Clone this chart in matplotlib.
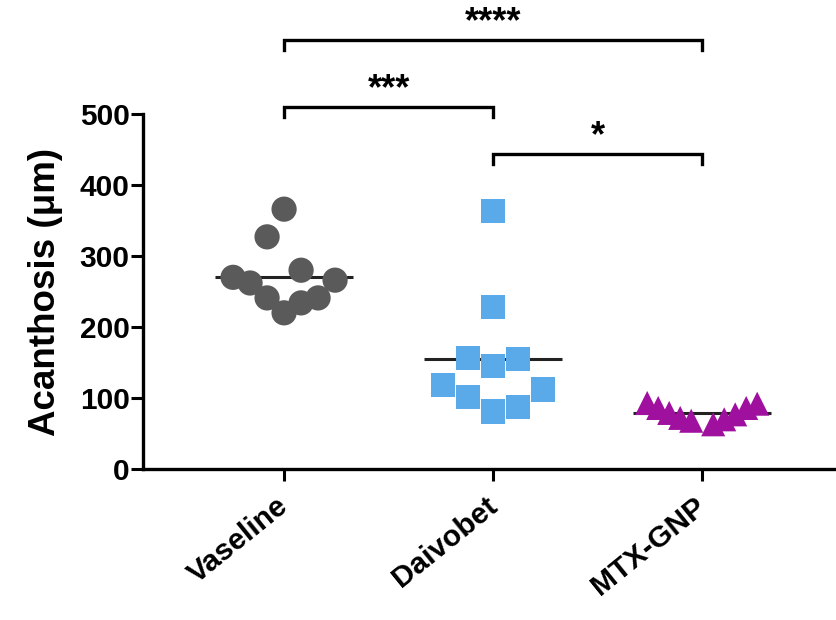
import numpy as np
import matplotlib
matplotlib.use("Agg")
import matplotlib.pyplot as plt
import matplotlib.transforms as mtransforms

# data (acanthosis thickness, um)
groups = ["Vaseline", "Daivobet", "MTX-GNP"]
vaseline = [366, 327, 280, 270, 266, 262, 241, 241, 234, 220]
daivobet = [363, 228, 156, 155, 145, 118, 112, 102, 87, 81]
mtx_gnp = [93, 92, 86, 86, 79, 77, 72, 70, 68, 63]
yticks = [0, 100, 200, 300, 400, 500]

# significance brackets: (group a, group b, label)
brackets = [(1, 3, "****"), (1, 2, "***"), (2, 3, "*")]
bracket_y = [604, 510, 444]

plt.rcParams['font.family'] = ['Liberation Sans', 'DejaVu Sans']
plt.rcParams['font.weight'] = 'bold'


def spread(vals, bin_h):
    """GraphPad-like scatter: points are grouped in rows of height bin_h,
    each row is laid out 0, +1, -1, +2, -2 ... (in steps) from low to high."""
    vals = np.asarray(vals, dtype=float)
    order = np.argsort(vals)
    steps = np.zeros(len(vals))
    i = 0
    while i < len(order):
        start = vals[order[i]]
        row = [j for j in order[i:] if vals[j] - start < bin_h]
        n = len(row)
        for k, j in enumerate(row):
            if n % 2 == 1:
                m = (k + 1) // 2
                steps[j] = m if k % 2 == 1 else -m
            else:
                m = k // 2 + 1
                steps[j] = m if k % 2 == 0 else -m
        i += n
    return steps


fig = plt.figure(figsize=(8.36, 6.2), dpi=100)
ax = fig.add_axes([0.171, 0.2435, 0.829, 0.5726])
ax.set_xlim(0.325, 3.64)
ax.set_ylim(0, 500)

# pixels per x unit, to set the spacing of the points
px_x = 0.829 * 836 / (3.64 - 0.325)

series = [
    (vaseline, "o", "#5a5a5a", 330, 17),
    (daivobet, "s", "#5aaaea", 300, 25),
    (mtx_gnp, "^", "#a0109f", 300, 11),
]

for k, (vals, mk, col, size, step) in enumerate(series):
    vals = np.array(vals, dtype=float)
    offs = spread(vals, 52) * step / px_x
    ax.scatter(k + 1 + offs, vals, marker=mk, s=size, color=col,
               edgecolors='none', zorder=3, clip_on=False)
    m = vals.mean()
    ax.plot([k + 1 - 0.33, k + 1 + 0.33], [m, m], color='#222222',
            lw=2.2, zorder=2, solid_capstyle='butt')

# brackets above the plot
drop = 14
for (a, b, lab), yb in zip(brackets, bracket_y):
    ax.plot([a, a, b, b], [yb - drop, yb, yb, yb - drop], color='black',
            lw=2.4, clip_on=False, solid_joinstyle='miter')
    ax.text((a + b) / 2, yb + 24, lab, ha='center', va='center',
            fontsize=26, fontweight='bold', clip_on=False)

for s in ['top', 'right']:
    ax.spines[s].set_visible(False)
for s in ['left', 'bottom']:
    ax.spines[s].set_linewidth(2.4)

ax.set_yticks(yticks)
ax.set_xticks([1, 2, 3])
ax.set_xticklabels(groups, rotation=39, ha='right', va='top',
                   rotation_mode='anchor')
ax.tick_params(axis='both', length=8.5, width=2.2, labelsize=21.5)
ax.tick_params(axis='y', pad=1)
ax.tick_params(axis='x', pad=8)
# nudge the slanted labels a little to the left
shift = mtransforms.ScaledTranslation(-6 / 72, 0, fig.dpi_scale_trans)
for lbl in ax.get_xticklabels():
    lbl.set_transform(lbl.get_transform() + shift)
ax.set_ylabel("Acanthosis (μm)", fontsize=26.5, fontweight='bold',
              labelpad=12)

fig.savefig("out.png", dpi=100)
